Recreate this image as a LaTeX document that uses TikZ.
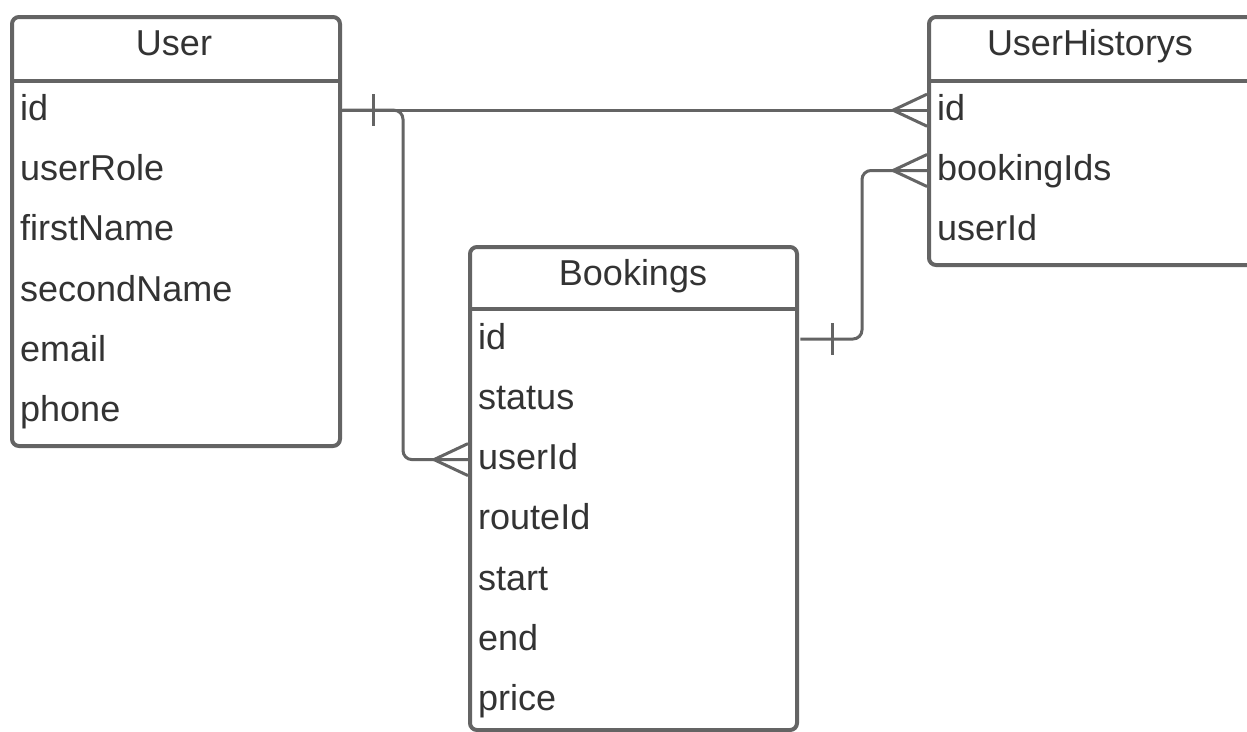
\documentclass[tikz,border=0pt]{standalone}
\usepackage{fontspec}
\setmainfont{Liberation Sans}
\definecolor{linegray}{HTML}{646464}
\definecolor{ink}{HTML}{333333}
\begin{document}
\begin{tikzpicture}[x=1pt,y=-1pt,
  border/.style={draw=linegray, line width=4pt},
  tablebox/.style={border, rectangle, rounded corners=7pt, inner sep=0pt, anchor=north west},
  title/.style={text=ink, font=\fontsize{36}{40}\selectfont, inner sep=0pt, anchor=base},
  field/.style={text=ink, font=\fontsize{36}{40}\selectfont, anchor=west,
    inner ysep=0pt, inner xsep=10pt, minimum height=60.3pt,
    text height=28pt, text depth=8pt, align=left},
  userfield/.style={field, text width=308pt},
  bookfield/.style={field, text width=307pt},
  histfield/.style={field, text width=380pt},
  conn/.style={draw=linegray, line width=3pt, rounded corners=9pt},
  crow/.style={draw=linegray, line width=3pt},
]
\clip (0,0) rectangle (1247,731);
\fill[white] (0,0) rectangle (1247,731);

% ---- User table ----
\node[tablebox, minimum width=328pt, minimum height=429pt] (user) at (10,15) {};
\draw[border] ([yshift=-66pt]user.north west) -- ([yshift=-66pt]user.north east);
\node[title] (user-title) at (174,55) {User};
\node[userfield] (u-id)     at (10,110.2) {id};
\node[userfield] (u-role)   at (10,170.5) {userRole};
\node[userfield] (u-first)  at (10,230.8) {firstName};
\node[userfield] (u-second) at (10,291.1) {secondName};
\node[userfield] (u-email)  at (10,351.4) {email};
\node[userfield] (u-phone)  at (10,411.7) {phone};

% ---- Bookings table ----
\node[tablebox, minimum width=327pt, minimum height=483pt] (bookings) at (468,245) {};
\draw[border] ([yshift=-64pt]bookings.north west) -- ([yshift=-64pt]bookings.north east);
\node[title] (b-title) at (633,285) {Bookings};
\node[bookfield] (b-id)     at (468,339.0) {id};
\node[bookfield] (b-status) at (468,399.3) {status};
\node[bookfield] (b-userId) at (468,459.6) {userId};
\node[bookfield] (b-route)  at (468,519.9) {routeId};
\node[bookfield] (b-start)  at (468,580.2) {start};
\node[bookfield] (b-end)    at (468,640.5) {end};
\node[bookfield] (b-price)  at (468,700.8) {price};

% ---- UserHistorys table (runs past the right edge) ----
\node[tablebox, minimum width=400pt, minimum height=248pt] (hist) at (927,15) {};
\draw[border] ([yshift=-66pt]hist.north west) -- ([yshift=-66pt]hist.north east);
\node[title] (h-title) at (1090,55) {UserHistorys};
\node[histfield] (h-id)         at (927,110.2) {id};
\node[histfield] (h-bookingIds) at (927,170.5) {bookingIds};
\node[histfield] (h-userId)     at (927,230.8) {userId};

% ---- Relationships ----
% User.id  1 -- N  UserHistorys.id
\draw[conn] ([xshift=4pt]u-id.east) -- (h-id.west);
% User.id  1 -- N  Bookings.userId
\draw[conn] ([xshift=4pt]u-id.east) -| ([xshift=-65pt]b-userId.west) -- (b-userId.west);
% Bookings.id  1 -- N  UserHistorys.bookingIds
\draw[conn] ([xshift=5pt]b-id.east) -| ([xshift=-65pt]h-bookingIds.west) -- (h-bookingIds.west);

% "one" bars
\draw[crow] ([xshift=35pt,yshift=16pt]u-id.east) -- ([xshift=35pt,yshift=-16pt]u-id.east);
\draw[crow] ([xshift=37pt,yshift=16pt]b-id.east) -- ([xshift=37pt,yshift=-16pt]b-id.east);

% "many" crow's feet
\foreach \n in {h-id, h-bookingIds, b-userId} {
  \draw[crow] ([yshift=16pt]\n.west) -- ([xshift=-34pt]\n.west) -- ([yshift=-16pt]\n.west);
}
\end{tikzpicture}
\end{document}
